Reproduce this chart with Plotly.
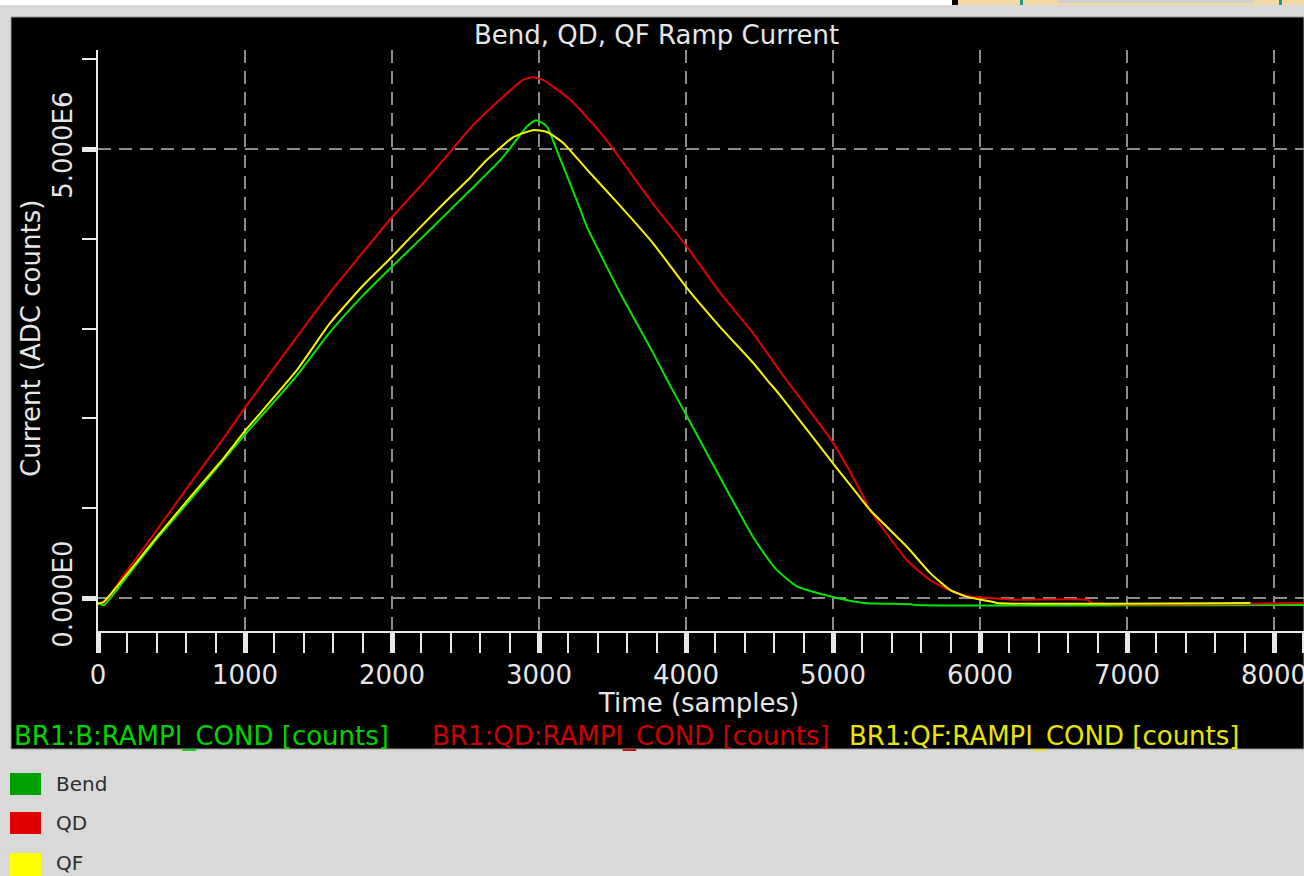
import plotly.graph_objects as go

# ---------------- data ----------------
bend_t = [0, 40, 170, 401, 626, 850, 1000, 1354, 1578, 1803, 2000, 2259, 2531, 2755,
          2918, 2980, 3054, 3120, 3259, 3327, 3551, 3776, 3871, 4007, 4279, 4456, 4565,
          4619, 4755, 4952, 5082, 5211, 5530, 5560, 8204]
bend_v = [-0.06e6, -0.08e6, 0.18e6, 0.66e6, 1.09e6, 1.53e6, 1.82e6, 2.48e6, 2.96e6, 3.37e6,
          3.69e6, 4.10e6, 4.54e6, 4.91e6, 5.25e6, 5.32e6, 5.25e6, 4.99e6, 4.42e6, 4.13e6,
          3.40e6, 2.73e6, 2.43e6, 2.02e6, 1.20e6, 0.68e6, 0.42e6, 0.31e6, 0.13e6, 0.03e6,
          -0.02e6, -0.055e6, -0.07e6, -0.078e6, -0.078e6]

qd_t = [0, 48, 170, 401, 626, 850, 1000, 1354, 1578, 2000, 2190, 2408, 2531, 2735, 2891,
        2959, 3027, 3211, 3435, 3776, 4007, 4231, 4456, 4650, 5000, 5184, 5252, 5503,
        5660, 5789, 5918, 6068, 6245, 6730, 6760, 8204]
qd_v = [-0.06e6, -0.04e6, 0.24e6, 0.76e6, 1.27e6, 1.77e6, 2.12e6, 2.91e6, 3.40e6, 4.24e6,
        4.58e6, 4.99e6, 5.23e6, 5.55e6, 5.77e6, 5.80e6, 5.77e6, 5.55e6, 5.15e6, 4.39e6,
        3.91e6, 3.40e6, 2.95e6, 2.50e6, 1.73e6, 1.20e6, 0.98e6, 0.42e6, 0.20e6, 0.09e6,
        0.02e6, 0.0, -0.02e6, -0.02e6, -0.056e6, -0.056e6]

qf_t = [0, 34, 170, 401, 626, 850, 1000, 1354, 1578, 1803, 2000, 2122, 2259, 2374, 2531,
        2646, 2823, 2959, 3054, 3163, 3327, 3551, 3776, 4007, 4231, 4456, 4551, 4639,
        5000, 5184, 5252, 5503, 5660, 5796, 5918, 6095, 6110, 7840]
qf_v = [-0.06e6, -0.05e6, 0.21e6, 0.68e6, 1.12e6, 1.55e6, 1.86e6, 2.54e6, 3.06e6, 3.48e6,
        3.80e6, 4.01e6, 4.24e6, 4.43e6, 4.68e6, 4.88e6, 5.13e6, 5.21e6, 5.19e6, 5.07e6,
        4.77e6, 4.37e6, 3.95e6, 3.45e6, 3.02e6, 2.62e6, 2.43e6, 2.26e6, 1.50e6, 1.12e6,
        0.98e6, 0.57e6, 0.28e6, 0.09e6, 0.01e6, -0.045e6, -0.056e6, -0.056e6]

y_tick_vals = [0, 5e6]
y_tick_text = ["0.000E0", "5.000E6"]
y_minor_vals = [1e6, 2e6, 3e6, 4e6, 6e6]

series_names = ["BR1:B:RAMPI_COND [counts]", "BR1:QD:RAMPI_COND [counts]",
                "BR1:QF:RAMPI_COND [counts]"]
legend_names = ["Bend", "QD", "QF"]

# ---------------- styling ----------------
W, H = 1304, 876
FONT = "DejaVu Sans"
line_colors = ["#00e600", "#e00000", "#f5f500"]
label_colors = ["#00d400", "#cc0000", "#e6e600"]
box_colors = ["#00a000", "#e00000", "#ffff00"]
GRID = "#8c8c8c"
AX = "#e8e8e8"
TXT = "#e6e6e6"


def px(x):
    return x / W


def py(y):
    return (H - y) / H


fig = go.Figure()
for t, v, c, n in [(bend_t, bend_v, line_colors[0], legend_names[0]),
                   (qd_t, qd_v, line_colors[1], legend_names[1]),
                   (qf_t, qf_v, line_colors[2], legend_names[2])]:
    fig.add_trace(go.Scatter(x=t, y=v, mode="lines", name=n,
                             line=dict(color=c, width=2, shape="spline", smoothing=0.5),
                             showlegend=False))

shapes = [
    # white strip at very top
    dict(type="rect", xref="paper", yref="paper", x0=0, x1=px(952), y0=py(5), y1=1,
         fillcolor="white", line_width=0, layer="below"),
    # top-right window decoration
    dict(type="rect", xref="paper", yref="paper", x0=px(952), x1=px(958), y0=py(5), y1=1,
         fillcolor="black", line_width=0, layer="below"),
    dict(type="rect", xref="paper", yref="paper", x0=px(958), x1=1, y0=py(5), y1=1,
         fillcolor="#f3d8a6", line_width=0, layer="below"),
    dict(type="rect", xref="paper", yref="paper", x0=px(1057), x1=px(1253), y0=py(3), y1=1,
         fillcolor="#cfcfcf", line_width=0, layer="below"),
    dict(type="rect", xref="paper", yref="paper", x0=px(1020), x1=px(1023), y0=py(5), y1=1,
         fillcolor="#1a9a8a", line_width=0, layer="below"),
    dict(type="rect", xref="paper", yref="paper", x0=px(1279), x1=px(1282), y0=py(5), y1=1,
         fillcolor="#1a9a8a", line_width=0, layer="below"),
    # black chart panel
    dict(type="rect", xref="paper", yref="paper", x0=px(11), x1=1, y0=py(749), y1=py(17),
         fillcolor="black", line=dict(color="#9a9a9a", width=1), layer="below"),
]
# bottom legend colour boxes
box_y = [(773, 795), (812, 834), (853, 876)]
for (y0, y1), c in zip(box_y, box_colors):
    shapes.append(dict(type="rect", xref="paper", yref="paper", x0=px(10), x1=px(41),
                       y0=py(y1), y1=py(y0), fillcolor=c, line_width=0))

annotations = [
    dict(text="Bend, QD, QF Ramp Current", x=px(656), y=py(35), xref="paper", yref="paper",
         showarrow=False, xanchor="center", yanchor="middle",
         font=dict(family=FONT, size=26, color=TXT)),
    dict(text="Time (samples)", x=px(698), y=py(703), xref="paper", yref="paper",
         showarrow=False, xanchor="center", yanchor="middle",
         font=dict(family=FONT, size=26, color=TXT)),
    dict(text="Current (ADC counts)", x=px(31), y=py(339), xref="paper", yref="paper",
         showarrow=False, xanchor="center", yanchor="middle", textangle=-90,
         font=dict(family=FONT, size=26, color=TXT)),
]
for name, c, x0 in zip(series_names, label_colors, [12, 430, 847]):
    annotations.append(dict(text=name, x=px(x0), y=py(736), xref="paper", yref="paper",
                            showarrow=False, xanchor="left", yanchor="middle",
                            font=dict(family=FONT, size=26, color=c)))
for name, yc in zip(legend_names, [784, 823, 863]):
    annotations.append(dict(text=name, x=px(54), y=py(yc), xref="paper", yref="paper",
                            showarrow=False, xanchor="left", yanchor="middle",
                            font=dict(family=FONT, size=20, color="#2e2e2e")))

fig.update_layout(
    width=W, height=H,
    margin=dict(l=0, r=0, t=0, b=0),
    paper_bgcolor="#d9d9d9",
    plot_bgcolor="black",
    shapes=shapes,
    annotations=annotations,
    showlegend=False,
    xaxis=dict(
        domain=[px(98), 1], range=[0, (W - 98) / 0.147], automargin=False,
        tickmode="linear", tick0=0, dtick=1000, tickformat="d",
        ticklabeloverflow="allow",
        ticks="outside", ticklen=20, tickwidth=5, tickcolor=AX,
        showline=True, linecolor=AX, linewidth=2,
        showgrid=True, gridcolor=GRID, gridwidth=2, griddash="13px,8px",
        zeroline=False,
        tickfont=dict(family=FONT, size=26, color=TXT),
        minor=dict(tickmode="linear", tick0=0, dtick=200, ticks="outside", ticklen=20,
                   tickwidth=2, tickcolor=AX, showgrid=False),
    ),
    yaxis=dict(
        domain=[py(631), py(50)],
        range=[-(631 - 598) / 89.8e-6, (598 - 50) / 89.8e-6], automargin=False,
        tickmode="array", tickvals=y_tick_vals, ticktext=y_tick_text, tickangle=-90,
        ticks="outside", ticklen=14, tickwidth=5, tickcolor=AX,
        showline=True, linecolor=AX, linewidth=2,
        showgrid=True, gridcolor=GRID, gridwidth=2, griddash="13px,8px",
        zeroline=False,
        tickfont=dict(family=FONT, size=26, color=TXT),
        minor=dict(tickmode="array", tickvals=y_minor_vals, ticks="outside", ticklen=14,
                   tickwidth=2, tickcolor=AX, showgrid=False),
    ),
)

fig.write_html(
    "out.html",
    config={"displayModeBar": False},
    post_script="document.body.style.margin='0px';document.body.style.overflow='hidden';",
)
